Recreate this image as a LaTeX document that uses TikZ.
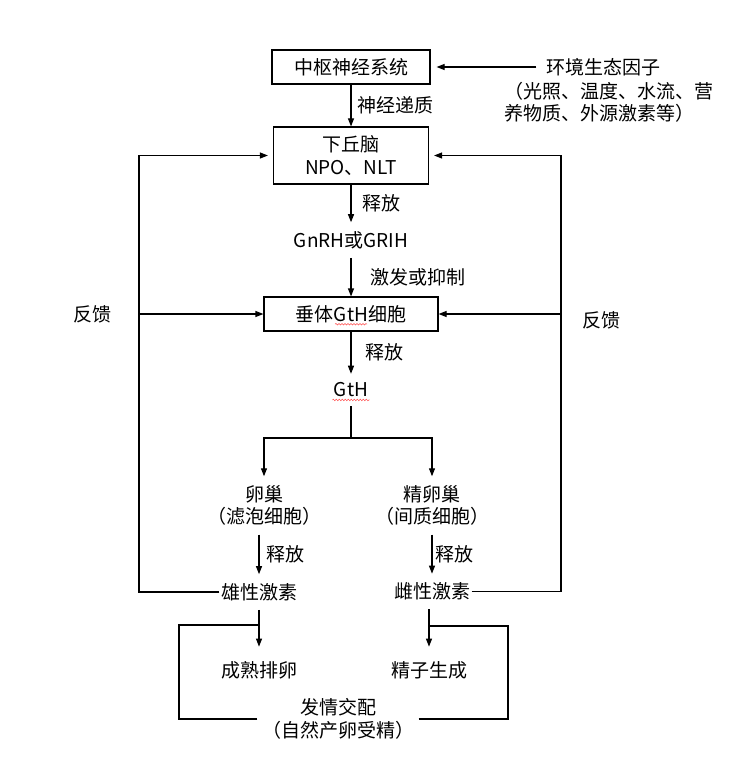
\documentclass[tikz,border=0pt]{standalone}
\usepackage{fontspec}
\setmainfont{Noto Sans CJK SC}
\usetikzlibrary{positioning,arrows.meta,decorations.pathmorphing}

\begin{document}
\begin{tikzpicture}[x=1pt, y=-1pt, on grid, auto, line width=1.1pt,
    >={Triangle[length=8pt,width=6pt]},
    font=\fontsize{19}{22.5}\selectfont,
    box/.style={draw, align=center, inner sep=2pt, minimum height=34pt},
    txt/.style={align=center, inner xsep=1pt, inner ysep=8.5pt},
    lbl/.style={inner sep=2pt},
    squig/.style={draw=red!70, line width=0.5pt, decorate,
        decoration={snake, amplitude=0.8pt, segment length=3pt}}]
    \useasboundingbox (0,0) rectangle (747,770);

    \node (cns) [box, minimum width=158pt] at (351,67) {中枢神经系统};
    \node (env) [txt, inner xsep=9pt, right=252pt of cns] {环境生态因子};
    \node (envnote) [align=left, inner sep=0pt, below right=35.5pt and 6pt of env] {（光照、温度、水流、营\\养物质、外源激素等）};
    \node (hyp) [box, minimum width=155pt, minimum height=57pt, below=88.5pt of cns] {下丘脑\\NPO、NLT};
    \node (gn) [txt, below=84.5pt of hyp] {GnRH或GRIH};
    \node (pit) [box, minimum width=174pt, below=74pt of gn] {垂体GtH细胞};
    \node (gth) [txt, below=76pt of pit] {GtH};
    \coordinate [below=48pt of gth] (split);
    \node (ov) [txt, below left=115.5pt and 87pt of gth] {卵巢\\（滤泡细胞）};
    \node (te) [txt, below right=115.5pt and 81pt of gth] {精卵巢\\（间质细胞）};
    \node (andro) [txt, below left=86.5pt and 5pt of ov] {雄性激素};
    \node (estro) [txt, below=86pt of te] {雌性激素};
    \node (ovul) [txt, inner ysep=14pt, below=78pt of andro] {成熟排卵};
    \node (sperm) [txt, inner ysep=14pt, below left=78.5pt and 3pt of estro] {精子生成};
    \node (mate) [txt, inner xsep=4pt, below right=49pt and 79pt of ovul] {发情交配\\（自然产卵受精）};

    \coordinate [left=212pt of pit] (fbl);
    \coordinate [right=210pt of pit] (fbr);
    \node (fbltxt) [left=259pt of pit] {反馈};
    \node (fbrtxt) [below right=6pt and 250pt of pit] {反馈};
    \coordinate [below left=33pt and 80pt of andro] (bl);
    \coordinate [above right=44pt and 79pt of sperm] (br);

    \draw[squig] ([xshift=-16pt, yshift=-3pt]pit.base) -- ([xshift=16pt, yshift=-3pt]pit.base);
    \draw[squig] ([yshift=-3pt]gth.base west) -- ([yshift=-3pt]gth.base east);

    \draw[->] (cns) to node[lbl, xshift=4pt] {神经递质} (hyp);
    \draw[->, shorten >=6pt] (env) to (cns);
    \draw[->] (hyp) to node[lbl, xshift=9pt] {释放} (gn);
    \draw[->] (gn) to node[lbl, xshift=17pt] {激发或抑制} (pit);
    \draw[->] (pit) to node[lbl, xshift=12pt] {释放} (gth);
    \draw (gth) to (split);
    \draw[->] (split) -| (ov);
    \draw[->] (split) -| (te);
    \draw[->] (andro |- ov.south) to node[lbl, xshift=5pt] {释放} (andro);
    \draw[->] (te) to node[lbl, xshift=1pt] {释放} (estro);
    \draw[->] (andro) to (ovul);
    \draw[->] (sperm |- estro.south) to (sperm);

    \draw[->, shorten >=5pt] (andro.west) -| (fbl) |- (hyp.west);
    \draw[->] (fbl) to (pit.west);
    \draw[->, shorten >=5pt] (estro.east) -| (fbr) |- (hyp.east);
    \draw[->] (fbr) to (pit.east);

    \draw (mate.west) -| (bl) -- (bl -| andro);
    \draw (mate.east) -| (br) -- (br -| sperm);
\end{tikzpicture}
\end{document}
